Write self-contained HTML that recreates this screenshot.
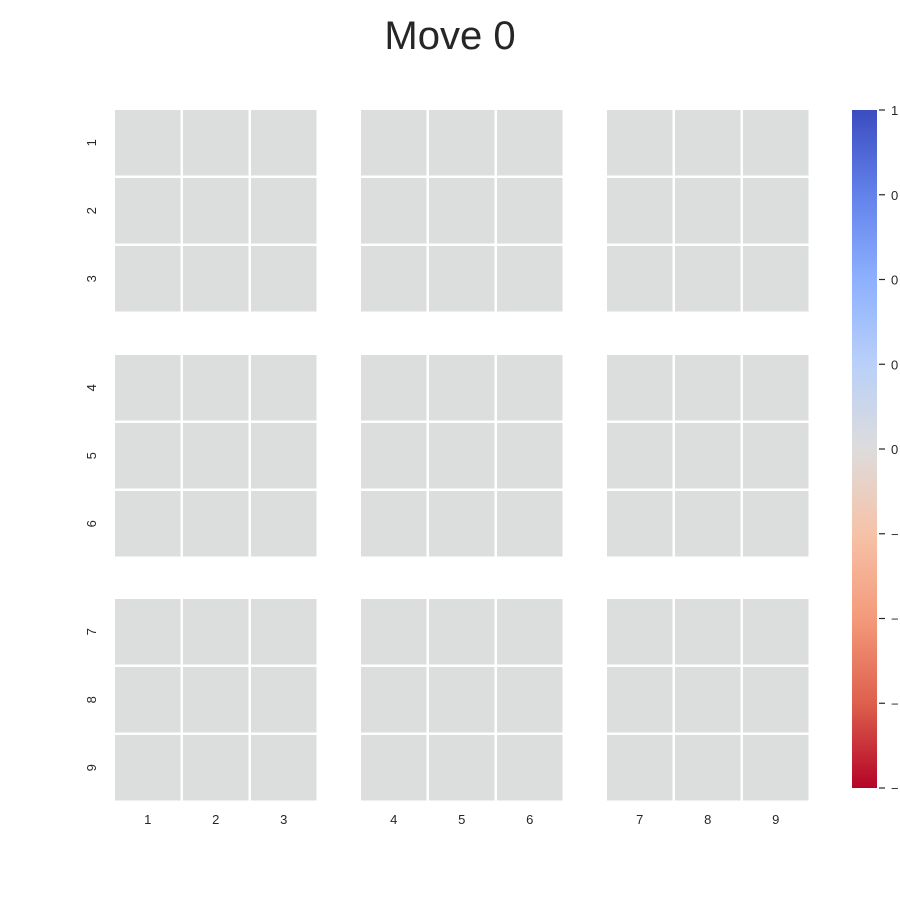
<!DOCTYPE html>
<html><head><meta charset="utf-8"><style>
body{margin:0;background:#fff;}
svg{display:block;font-family:"Liberation Sans",Arial,sans-serif;}
</style></head><body>
<svg id="chart" width="900" height="900" viewBox="0 0 900 900">
<defs>
<linearGradient id="cw" x1="0" y1="1" x2="0" y2="0">
<stop offset="0" stop-color="#b40426"/>
<stop offset="0.125" stop-color="#de604d"/>
<stop offset="0.25" stop-color="#f49a7b"/>
<stop offset="0.375" stop-color="#f6c2a8"/>
<stop offset="0.5" stop-color="#dddcdc"/>
<stop offset="0.625" stop-color="#b9d0f9"/>
<stop offset="0.75" stop-color="#8db0fe"/>
<stop offset="0.875" stop-color="#6282ea"/>
<stop offset="1" stop-color="#3b4cc0"/>
</linearGradient>
</defs>
<text x="450" y="49" text-anchor="middle" font-size="40" fill="#262626">Move 0</text>
<g id="cells"></g>
<g id="labels"></g>
<rect x="852" y="110" width="25" height="678" fill="url(#cw)"/>
<g id="cbticks"></g>
</svg>
<script>
const rowLabels = ["1","2","3","4","5","6","7","8","9"];
const colLabels = ["1","2","3","4","5","6","7","8","9"];
const boardValues = [
 [0,0,0,0,0,0,0,0,0],
 [0,0,0,0,0,0,0,0,0],
 [0,0,0,0,0,0,0,0,0],
 [0,0,0,0,0,0,0,0,0],
 [0,0,0,0,0,0,0,0,0],
 [0,0,0,0,0,0,0,0,0],
 [0,0,0,0,0,0,0,0,0],
 [0,0,0,0,0,0,0,0,0],
 [0,0,0,0,0,0,0,0,0]
];
const cbTickLabels = ["1","0","0","0","0","\u2212","\u2212","\u2212","\u2212"];
const vmin = -1, vmax = 1;

const NS = "http://www.w3.org/2000/svg";
const blockStart = [115, 361, 607];
const blockStartY = [110, 355, 599];
const pitch = 68;
const cellSize = 65.5;
function xPos(c){ return blockStart[Math.floor(c/3)] + (c%3)*pitch; }
function yPos(r){ return blockStartY[Math.floor(r/3)] + (r%3)*pitch; }
const stops = [[0,[180,4,38]],[0.125,[222,96,77]],[0.25,[244,154,123]],[0.375,[246,194,168]],[0.5,[220,221,221]],[0.625,[185,208,249]],[0.75,[141,176,254]],[0.875,[98,130,234]],[1,[59,76,192]]];
function color(v){
  let t = (v - vmin)/(vmax - vmin); t = Math.max(0, Math.min(1, t));
  for (let i=1;i<stops.length;i++){
    if (t <= stops[i][0]){
      const a=stops[i-1], b=stops[i], f=(t-a[0])/(b[0]-a[0]);
      const c=a[1].map((x,k)=>Math.round(x+(b[1][k]-x)*f));
      return "rgb("+c.join(",")+")";
    }
  }
  return "rgb(59,76,192)";
}
const cells = document.getElementById("cells");
for (let r=0;r<9;r++) for (let c=0;c<9;c++){
  const el = document.createElementNS(NS,"rect");
  el.setAttribute("x", xPos(c)); el.setAttribute("y", yPos(r));
  el.setAttribute("width", cellSize); el.setAttribute("height", cellSize);
  el.setAttribute("fill", color(boardValues[r][c]));
  
  
  cells.appendChild(el);
}
const labels = document.getElementById("labels");
rowLabels.forEach((lab,r)=>{
  const y = yPos(r)+cellSize/2;
  const t = document.createElementNS(NS,"text");
  t.setAttribute("transform","translate(96,"+y+") rotate(-90)");
  t.setAttribute("text-anchor","middle"); t.setAttribute("font-size","13"); t.setAttribute("fill","#262626");
  t.textContent = lab;
  
  
  labels.appendChild(t);
});
colLabels.forEach((lab,c)=>{
  const t = document.createElementNS(NS,"text");
  t.setAttribute("x", xPos(c)+cellSize/2); t.setAttribute("y", 824);
  t.setAttribute("text-anchor","middle"); t.setAttribute("font-size","13"); t.setAttribute("fill","#262626");
  t.textContent = lab;
  
  
  labels.appendChild(t);
});
const cb = document.getElementById("cbticks");
cbTickLabels.forEach((lab,i)=>{
  const y = 110 + i*(678/8);
  const l = document.createElementNS(NS,"line");
  l.setAttribute("x1",879); l.setAttribute("x2",885); l.setAttribute("y1",y); l.setAttribute("y2",y);
  l.setAttribute("stroke","#262626"); l.setAttribute("stroke-width","1.2");
  
  
  cb.appendChild(l);
  const t = document.createElementNS(NS,"text");
  t.setAttribute("x",891); t.setAttribute("y",y+5);
  t.setAttribute("font-size","13"); t.setAttribute("fill","#262626");
  t.textContent = lab;
  
  
  cb.appendChild(t);
});
</script>
</body></html>
